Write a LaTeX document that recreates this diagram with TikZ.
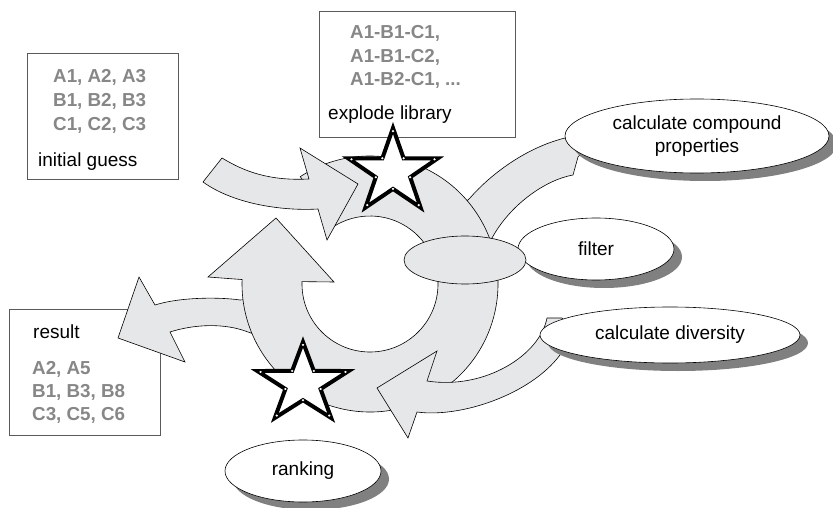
\documentclass[tikz,border=0pt]{standalone}
\usepackage{fontspec}
\setmainfont{Liberation Sans}
\usetikzlibrary{shapes.geometric,shadows}
\definecolor{ringfill}{RGB}{230,231,232}
\definecolor{txtgray}{RGB}{135,135,135}
\definecolor{boxline}{RGB}{90,90,90}
\definecolor{shadowgray}{RGB}{128,128,128}
\tikzset{
 band/.style={fill=ringfill, draw=black, line width=0.6pt, line join=miter},
 panel/.style={draw=boxline, line width=0.8pt, fill=white, rectangle, inner sep=0pt},
 lbl/.style={font=\fontsize{19}{23}\selectfont, text=black, inner sep=0pt, anchor=base west},
 glbl/.style={font=\bfseries\fontsize{18.8}{23}\selectfont, text=txtgray, inner sep=0pt, anchor=base west},
 oval/.style={ellipse, draw=black, line width=0.6pt, fill=white, inner sep=0pt,
   font=\fontsize{19}{23}\selectfont, align=center,
   drop shadow={shadow xshift=8pt, shadow yshift=-8pt, fill=shadowgray, opacity=1}},
 hubstyle/.style={ellipse, draw=black, fill=ringfill, line width=0.6pt, inner sep=0pt},
 starline/.style={draw=black, fill=white, line width=4pt, line join=miter},
}
\newcommand{\mystarshape}{%
  \draw[starline] (-90:1) -- (-54:0.385) -- (-18:1) -- (18:0.385) -- (54:1) -- (90:0.385)
     -- (126:1) -- (162:0.385) -- (198:1) -- (234:0.385) -- cycle;
  \foreach \a in {-90,-18,54,126,198} \fill[white] (\a:0.93) circle[radius=0.027];
  \foreach \a in {-54,18,90,162,234} \fill[white] (\a:0.385) circle[radius=0.027];
}
\begin{document}
\begin{tikzpicture}[x=1pt,y=-1pt]
\useasboundingbox (0,0) rectangle (833,508);
% boxes
\node[panel, minimum width=151pt, minimum height=126pt] (initbox) at (102.5,116) {};
\node[panel, minimum width=196pt, minimum height=126pt] (explbox) at (417,74) {};
\node[panel, minimum width=151pt, minimum height=126pt] (resbox) at (84.5,372) {};
% box texts
\node[glbl] (ig1) at (53,83) {A1, A2, A3};
\node[glbl] (ig2) at (53,107) {B1, B2, B3};
\node[glbl] (ig3) at (53,131) {C1, C2, C3};
\node[lbl] (ig4) at (38,167) {initial guess};
\node[glbl] (ex1) at (350,39) {A1-B1-C1,};
\node[glbl] (ex2) at (350,62.5) {A1-B1-C2,};
\node[glbl] (ex3) at (350,86) {A1-B2-C1, ...};
\node[lbl] (ex4) at (328,120) {explode library};
\node[lbl] (rs0) at (33,338) {result};
\node[glbl] (rs1) at (32,374) {A2, A5};
\node[glbl] (rs2) at (32,397) {B1, B3, B8};
\node[glbl] (rs3) at (32,420) {C3, C5, C6};
% result arrow (behind ring)
\draw[band] (262,298) -- (240,300) .. controls (220,297) and (180,297) .. (155,305)
  -- (139,277) -- (118,338) -- (185,362) -- (170,332)
  .. controls (195,324) and (225,323) .. (248,332) -- (265,338) -- cycle;
% band to compound properties (behind ring)
\draw[band] (455,212) -- (470,198) .. controls (490,175) and (525,148) .. (565,138)
  -- (582,128) -- (592,142) -- (578,157) -- (573,175)
  .. controls (545,180) and (510,205) .. (492,238) -- (478,245) -- cycle;
% main ring
\draw[band] (370,284) ++(237:128) arc[start angle=237, end angle=542, radius=128]
  -- (208,277) -- (276,218) -- (334,282) -- (302.04,281.63)
  arc[start angle=542, end angle=237, radius=68] -- cycle;
% band from calculate diversity
\draw[band] (427,381) .. controls (485,390) and (540,355) .. (547,318) -- (562,318)
  -- (580,342) -- (560,355) .. controls (530,395) and (460,418) .. (417,412)
  -- (408,438) -- (377,388) -- (437,351) -- cycle;
% incoming arrow from initial guess
\draw[band] (222,158) .. controls (245,172) and (270,181) .. (309,179) -- (300,148)
  -- (358,184) -- (327,240) -- (318,209)
  .. controls (285,211) and (235,205) .. (203,182) -- cycle;
% ellipses
\node[oval, minimum width=264pt, minimum height=74pt] (compound) at (697,136) {calculate compound\\properties};
\node[oval, minimum width=260pt, minimum height=56pt] (diversity) at (670,335) {calculate diversity};
\node[oval, minimum width=156pt, minimum height=62pt] (filter) at (596,249) {filter};
\node[hubstyle, minimum width=122pt, minimum height=48pt] (hub) at (465,260) {};
\node[oval, minimum width=156pt, minimum height=62pt] (ranking) at (303,471) {ranking};
% stars
\begin{scope}[shift={(393,172)}, xscale=47, yscale=44]
  \mystarshape
\end{scope}
\begin{scope}[shift={(303,384)}, xscale=48, yscale=42]
  \mystarshape
\end{scope}
\end{tikzpicture}
\end{document}
